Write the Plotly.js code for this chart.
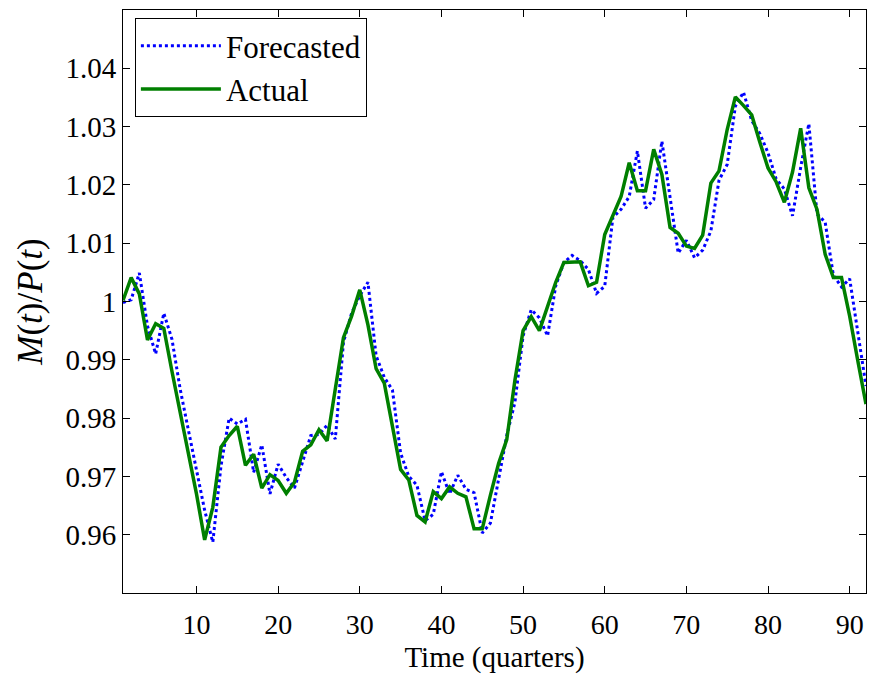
<!DOCTYPE html>
<html>
<head>
<meta charset="utf-8">
<script src="https://cdn.plot.ly/plotly-3.0.1.min.js"></script>
<style>html,body{margin:0;padding:0;background:#fff;}#chart{width:873px;height:674px;}</style>
</head>
<body>
<div id="chart"></div>
<script>
const quarters = Array.from({length: 92}, (_, i) => i + 1);
const forecasted = [
  0.9998, 1.0003, 1.0049, 0.9958, 0.9910, 0.9980, 0.9935, 0.9850, 0.9780, 0.9710,
  0.9642, 0.9587, 0.9718, 0.9800, 0.9790, 0.9798, 0.9707, 0.9754, 0.9670, 0.9721,
  0.9698, 0.9680, 0.9727, 0.9770, 0.9772, 0.9788, 0.9764, 0.9930, 0.9980, 1.0010,
  1.0033, 0.9907, 0.9870, 0.9848, 0.9740, 0.9700, 0.9685, 0.9624, 0.9635, 0.9708,
  0.9670, 0.9702, 0.9678, 0.9672, 0.9603, 0.9620, 0.9695, 0.9770, 0.9827, 0.9941,
  0.9986, 0.9972, 0.9941, 1.0027, 1.0067, 1.0079, 1.0070, 1.0055, 1.0014, 1.0026,
  1.0144, 1.0158, 1.0180, 1.0258, 1.0160, 1.0175, 1.0275, 1.0180, 1.0083, 1.0105,
  1.0075, 1.0088, 1.0121, 1.0208, 1.0235, 1.0335, 1.0359, 1.0310, 1.0288, 1.0255,
  1.0210, 1.0193, 1.0147, 1.0230, 1.0305, 1.0150, 1.0136, 1.0045, 1.0025, 1.0039,
  0.9950, 0.9855
];
const actual = [
  1.0002, 1.0041, 1.0013, 0.9934, 0.9962, 0.9954, 0.9880, 0.9810, 0.9740, 0.9670,
  0.9591, 0.9647, 0.9750, 0.9770, 0.9786, 0.9719, 0.9738, 0.9680, 0.9703, 0.9693,
  0.9671, 0.9690, 0.9743, 0.9754, 0.9780, 0.9761, 0.9850, 0.9938, 0.9975, 1.0020,
  0.9960, 0.9885, 0.9860, 0.9786, 0.9712, 0.9694, 0.9633, 0.9622, 0.9674, 0.9662,
  0.9682, 0.9671, 0.9665, 0.9610, 0.9610, 0.9668, 0.9722, 0.9763, 0.9865, 0.9950,
  0.9974, 0.9950, 0.9993, 1.0033, 1.0067, 1.0068, 1.0068, 1.0027, 1.0033, 1.0115,
  1.0146, 1.0180, 1.0238, 1.0190, 1.0190, 1.0261, 1.0218, 1.0127, 1.0117, 1.0095,
  1.0091, 1.0114, 1.0203, 1.0224, 1.0295, 1.0351, 1.0336, 1.0320, 1.0273, 1.0229,
  1.0205, 1.0170, 1.0222, 1.0297, 1.0195, 1.0158, 1.0081, 1.0041, 1.0041, 0.9975,
  0.9898, 0.9824
];
const seriesNames = ["Forecasted", "Actual"];
const xTickVals = [10, 20, 30, 40, 50, 60, 70, 80, 90];
const yTickVals = [0.96, 0.97, 0.98, 0.99, 1.00, 1.01, 1.02, 1.03, 1.04];
const yTickText = ["0.96", "0.97", "0.98", "0.99", "1", "1.01", "1.02", "1.03", "1.04"];

const FONT = 'Liberation Serif, Times New Roman, serif';

const traces = [
  {
    x: quarters, y: forecasted, name: seriesNames[0], type: 'scatter', mode: 'lines',
    line: {color: '#0000FF', width: 3, dash: 'dot'}
  },
  {
    x: quarters, y: actual, name: seriesNames[1], type: 'scatter', mode: 'lines',
    line: {color: '#007F00', width: 3.5}
  }
];

const layout = {
  width: 873, height: 674,
  margin: {l: 123, r: 7, t: 10, b: 81},
  paper_bgcolor: '#fff', plot_bgcolor: '#fff',
  font: {family: FONT, size: 28, color: '#000'},
  showlegend: true,
  legend: {
    x: 0.016, y: 0.986, xanchor: 'left', yanchor: 'top',
    bgcolor: '#fff', bordercolor: '#000', borderwidth: 1,
    font: {family: FONT, size: 31, color: '#000'},
    itemwidth: 80, tracegroupgap: 0
  },
  xaxis: {
    range: [1, 92], tickmode: 'array', tickvals: xTickVals,
    ticks: 'inside', ticklen: 7, tickwidth: 1, tickcolor: '#000',
    showline: true, linecolor: '#000', linewidth: 1, mirror: 'ticks',
    showgrid: false, zeroline: false, ticklabelstandoff: 6,
    tickfont: {family: FONT, size: 28, color: '#000'},
    title: {text: 'Time (quarters)', font: {family: FONT, size: 29, color: '#000'}, standoff: 8}
  },
  yaxis: {
    range: [0.95, 1.05], tickmode: 'array', tickvals: yTickVals, ticktext: yTickText,
    ticks: 'inside', ticklen: 7, tickwidth: 1, tickcolor: '#000',
    showline: true, linecolor: '#000', linewidth: 1, mirror: 'ticks',
    showgrid: false, zeroline: false,
    tickfont: {family: FONT, size: 29, color: '#000'},
    title: {text: '<i>M</i>(<i>t</i>)/<i>P</i>(<i>t</i>)', font: {family: FONT, size: 35, color: '#000'}, standoff: 12}
  }
};

Plotly.newPlot('chart', traces, layout, {staticPlot: true, displayModeBar: false});
</script>
</body>
</html>
